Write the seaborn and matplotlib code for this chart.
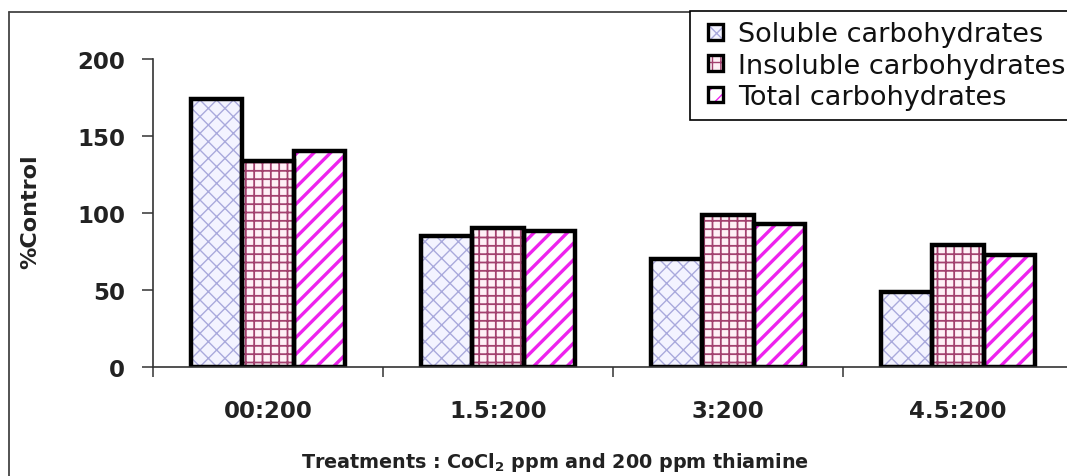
import matplotlib
matplotlib.use("Agg")
import matplotlib.pyplot as plt
from matplotlib.patches import Rectangle, Patch
from matplotlib.lines import Line2D
from matplotlib.legend_handler import HandlerPatch
from matplotlib.ticker import FixedLocator
import pandas as pd
import seaborn as sns

treatments = ["00:200", "1.5:200", "3:200", "4.5:200"]
series = ["Soluble carbohydrates", "Insoluble carbohydrates", "Total carbohydrates"]
soluble = [174, 85, 70, 49]
insoluble = [134, 90, 99, 79]
total = [140, 88, 93, 73]
y_ticks = [0, 50, 100, 150, 200]

# fill, hatch pattern, hatch colour, hatch width for each series
face_colors = ["#f3f3ff", "#fff0f6", "#ffffff"]
hatches = ["xx", "++", "//"]
hatch_colors = ["#a9a9dc", "#a3416f", "#ee22ee"]
hatch_widths = [1.0, 1.3, 2.4]

df = pd.DataFrame({
    "treatment": treatments * 3,
    "value": soluble + insoluble + total,
    "fraction": [s for s in series for _ in treatments],
})

sns.set_theme(style="white")
plt.rcParams["font.family"] = ["DejaVu Sans"]

W, H = 1067, 477
fig = plt.figure(figsize=(W / 100, H / 100), dpi=100)
ax = fig.add_axes([153 / W, 1 - 368 / H, (W - 153) / W, (368 - 60) / H])

sns.barplot(data=df, x="treatment", y="value", hue="fraction", order=treatments,
            hue_order=series, palette=face_colors, saturation=1, width=0.67,
            legend=False, ax=ax)

def set_hw(p, w):
    if hasattr(p, "set_hatch_linewidth"):
        p.set_hatch_linewidth(w)
    else:
        p._hatch_linewidth = w

outlines = []
for i, cont in enumerate(ax.containers):
    for p in cont.patches:
        p.set_hatch(hatches[i])
        p.set_edgecolor(hatch_colors[i])
        p.set_linewidth(0)
        set_hw(p, hatch_widths[i])
        outlines.append(Rectangle(p.get_xy(), p.get_width(), p.get_height(),
                                  facecolor="none", edgecolor="black",
                                  linewidth=3.2, zorder=p.get_zorder() + 0.1))
for r in outlines:
    ax.add_patch(r)

ax.set_ylim(0, 200)
ax.set_xlim(-0.5, -0.5 + (W - 153) / 230)
ax.set_yticks(y_ticks)
ax.set_yticklabels([str(v) for v in y_ticks], fontsize=16.5, fontweight="bold", color="#222222")
ax.set_xticks(range(len(treatments)))
ax.set_xticklabels(treatments, fontsize=16.5, fontweight="bold", color="#222222")
ax.xaxis.set_minor_locator(FixedLocator([-0.5, 0.5, 1.5, 2.5]))
ax.tick_params(axis="x", which="major", length=0, pad=23)
ax.tick_params(axis="x", which="minor", direction="out", length=7, width=1.1,
               color="#333333", bottom=True)
ax.tick_params(axis="y", which="major", direction="out", length=8, width=1.1,
               color="#333333", pad=12, left=True)

for s in ["top", "right"]:
    ax.spines[s].set_visible(False)
for s in ["left", "bottom"]:
    ax.spines[s].set_linewidth(1.2)
    ax.spines[s].set_color("#333333")

ax.set_xlabel("")
ax.set_ylabel("")
fig.text(30 / W, 1 - 212 / H, "%Control", rotation=90, ha="center", va="center",
         fontsize=16, fontweight="bold", color="#222222")
fig.text(555 / W, 1 - 463 / H, r"Treatments : CoCl$_{\mathbf{2}}$ ppm and 200 ppm thiamine",
         ha="center", va="center", fontsize=13.8, fontweight="bold", color="#222222")


def square(legend, orig_handle, xdescent, ydescent, width, height, fontsize):
    # small square swatch placed at the right end of the handle box
    s = height
    return Rectangle((-xdescent + width - s, -ydescent), s, s)


# legend: hatched swatch with a black square outline on top
handles = []
for i in range(3):
    sw = Patch(facecolor=face_colors[i], edgecolor=hatch_colors[i], hatch=hatches[i], linewidth=0)
    set_hw(sw, hatch_widths[i])
    ol = Patch(facecolor="none", edgecolor="black", linewidth=2.4)
    handles.append((sw, ol))
leg = fig.legend(handles, series, loc="upper left",
                 bbox_to_anchor=(690 / W, 1 - 12 / H), bbox_transform=fig.transFigure,
                 handler_map={Patch: HandlerPatch(patch_func=square)},
                 fontsize=19.5, frameon=True, fancybox=False, framealpha=1,
                 edgecolor="black", handlelength=0.85, handleheight=0.52,
                 handletextpad=0.55, borderpad=0.38, labelspacing=0.2, borderaxespad=0)
leg.get_frame().set_linewidth(1.2)
for t in leg.get_texts():
    t.set_color("#111111")

# outer frame of the figure
fig.add_artist(Line2D([9 / W, 1], [1 - 13 / H, 1 - 13 / H], transform=fig.transFigure,
                      color="#444444", linewidth=1.3))
fig.add_artist(Line2D([9 / W, 9 / W], [0, 1 - 13 / H], transform=fig.transFigure,
                      color="#444444", linewidth=1.3))

fig.savefig("out.png", dpi=100, facecolor="white")
